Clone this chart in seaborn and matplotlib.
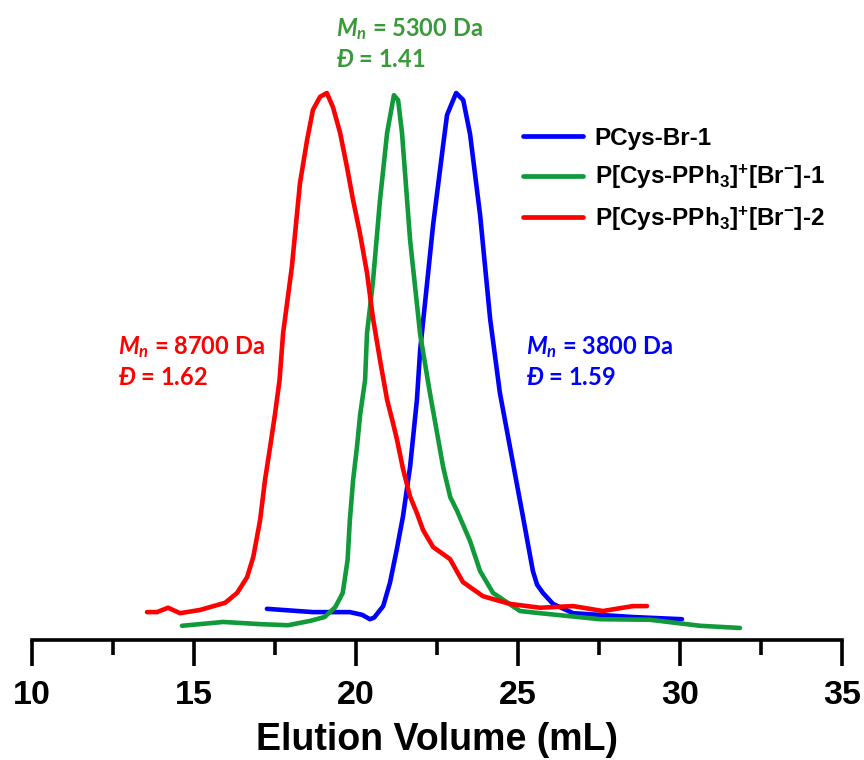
import numpy as np
import pandas as pd
import matplotlib
matplotlib.use("Agg")
import matplotlib.pyplot as plt
import seaborn as sns

# GPC traces (elution volume in mL, normalised RI response)
blue_x = [17.25, 18.67, 19.81, 20.19, 20.43, 20.56, 20.84, 21.05, 21.26, 21.45, 21.67, 21.88, 21.98,
          22.38, 22.69, 22.81, 23.09, 23.31, 23.52, 23.83, 24.14, 24.44, 24.78, 25.12, 25.46,
          25.59, 25.77, 26.08, 26.70, 28.55, 30.06]
blue_y = [0.057, 0.051, 0.051, 0.046, 0.038, 0.041, 0.062, 0.105, 0.166, 0.226, 0.317, 0.439, 0.530,
          0.759, 0.905, 0.960, 1.000, 0.987, 0.925, 0.777, 0.587, 0.452, 0.344, 0.236, 0.126,
          0.101, 0.086, 0.066, 0.049, 0.042, 0.038]

green_x = [14.63, 15.90, 17.04, 17.90, 18.59, 19.03, 19.36, 19.59, 19.74, 19.81, 19.91, 20.03, 20.13,
           20.28, 20.34, 20.52, 20.74, 20.96, 21.17, 21.30, 21.42, 21.67, 21.98, 22.28, 22.69,
           22.91, 23.12, 23.52, 23.83, 24.23, 25.06, 25.68, 27.53, 29.07, 30.62, 31.85]
green_y = [0.026, 0.033, 0.029, 0.027, 0.035, 0.042, 0.060, 0.086, 0.146, 0.219, 0.292, 0.353, 0.413,
           0.475, 0.561, 0.653, 0.804, 0.927, 0.996, 0.987, 0.927, 0.731, 0.559, 0.452, 0.316,
           0.261, 0.236, 0.181, 0.126, 0.086, 0.053, 0.049, 0.038, 0.037, 0.026, 0.022]

red_x = [13.55, 13.86, 14.20, 14.57, 15.19, 15.96, 16.33, 16.64, 16.83, 17.04, 17.19, 17.35, 17.50,
         17.64, 17.75, 18.02, 18.27, 18.49, 18.67, 18.89, 19.10, 19.29, 19.51, 19.72, 19.91,
         20.12, 20.34, 20.52, 20.74, 20.96, 21.14, 21.27, 21.45, 21.67, 21.88, 22.07, 22.38,
         22.90, 23.30, 23.92, 24.75, 25.68, 26.70, 27.62, 28.55, 28.98]
red_y = [0.051, 0.051, 0.059, 0.049, 0.055, 0.068, 0.086, 0.115, 0.152, 0.219, 0.292, 0.353, 0.413,
         0.475, 0.561, 0.682, 0.835, 0.914, 0.969, 0.993, 1.000, 0.974, 0.927, 0.865, 0.804,
         0.744, 0.671, 0.590, 0.512, 0.439, 0.397, 0.365, 0.313, 0.262, 0.232, 0.201, 0.170,
         0.148, 0.106, 0.080, 0.066, 0.059, 0.062, 0.053, 0.062, 0.062]

labels = ["PCys-Br-1",
          r"P[Cys-PPh$_\mathrm{3}$]$^\mathrm{+}$[Br$^\mathrm{-}$]-1",
          r"P[Cys-PPh$_\mathrm{3}$]$^\mathrm{+}$[Br$^\mathrm{-}$]-2"]
colors = ["#0000FF", "#109A3A", "#FF0000"]
text_colors = ["#0000FF", "#3A9A3A", "#FF0000"]

mn_values = ["3800", "5300", "8700"]
dispersity = ["1.59", "1.41", "1.62"]

x_ticks = [10, 15, 20, 25, 30, 35]

frames = []
for lab, xs, ys in zip(labels, [blue_x, green_x, red_x], [blue_y, green_y, red_y]):
    frames.append(pd.DataFrame({"volume": xs, "signal": ys, "sample": lab}))
df = pd.concat(frames, ignore_index=True)

sns.set_style("white")
plt.rcParams["font.family"] = ["Liberation Sans", "DejaVu Sans"]
plt.rcParams["font.weight"] = "bold"
plt.rcParams["text.color"] = "black"
plt.rcParams["axes.labelcolor"] = "black"
plt.rcParams["xtick.color"] = "black"
plt.rcParams["mathtext.fontset"] = "custom"
plt.rcParams["mathtext.rm"] = "Liberation Sans:bold"
plt.rcParams["mathtext.bf"] = "Liberation Sans:bold"
plt.rcParams["mathtext.it"] = "Lato:bold:italic"

fig = plt.figure(figsize=(8.64, 7.6), dpi=100)
ax = fig.add_axes([32 / 864, 120 / 760, 810 / 864, 640 / 760])

sns.lineplot(data=df, x="volume", y="signal", hue="sample", palette=colors,
             hue_order=labels, estimator=None, sort=False, linewidth=3.3, ax=ax)

ax.set_xlim(10, 35)
ax.set_ylim(0, 640 / 547)
for side in ["left", "right", "top"]:
    ax.spines[side].set_visible(False)
ax.spines["bottom"].set_linewidth(2.6)
ax.spines["bottom"].set_color("black")
ax.set_yticks([])
ax.set_xticks(x_ticks)
ax.set_xticks([12.5, 17.5, 22.5, 27.5, 32.5], minor=True)
ax.tick_params(axis="x", which="major", direction="out", length=19, width=2.6,
               labelsize=24.5, pad=10, bottom=True, color="black", labelcolor="black")
ax.tick_params(axis="x", which="minor", direction="out", length=10.5, width=2.6,
               bottom=True, color="black")
for t in ax.get_xticklabels():
    t.set_fontweight("bold")
ax.set_xlabel("Elution Volume (mL)", fontsize=27, fontweight="bold", labelpad=8,
              color="black")
ax.set_ylabel("")

handles, hl = ax.get_legend_handles_labels()
leg = ax.legend(handles, hl, loc="upper left", bbox_to_anchor=(513 / 864, 1 - 117 / 760),
                bbox_transform=fig.transFigure, frameon=False, fontsize=17.5,
                handlelength=2.47, handletextpad=0.49, labelspacing=0.55, borderaxespad=0)
for line in leg.get_lines():
    line.set_linewidth(3.4)
for t in leg.get_texts():
    t.set_fontweight("bold")
    t.set_color("black")

# Molecular weight annotations next to each trace
annot = [(526, 354, 385), (336, 36, 67), (118, 354, 385)]
for (px, y1, y2), mn, dd, col in zip(annot, mn_values, dispersity, text_colors):
    fig.text(px / 864, 1 - y1 / 760, r"$\mathit{M}_\mathit{n}$" + f" = {mn} Da",
             fontsize=17, color=col, fontweight="bold", family=["Lato", "DejaVu Sans"])
    fig.text(px / 864, 1 - y2 / 760, r"$\mathit{Đ}$" + f" = {dd}",
             fontsize=17, color=col, fontweight="bold", family=["Lato", "DejaVu Sans"])

fig.savefig("out.png", dpi=100)
